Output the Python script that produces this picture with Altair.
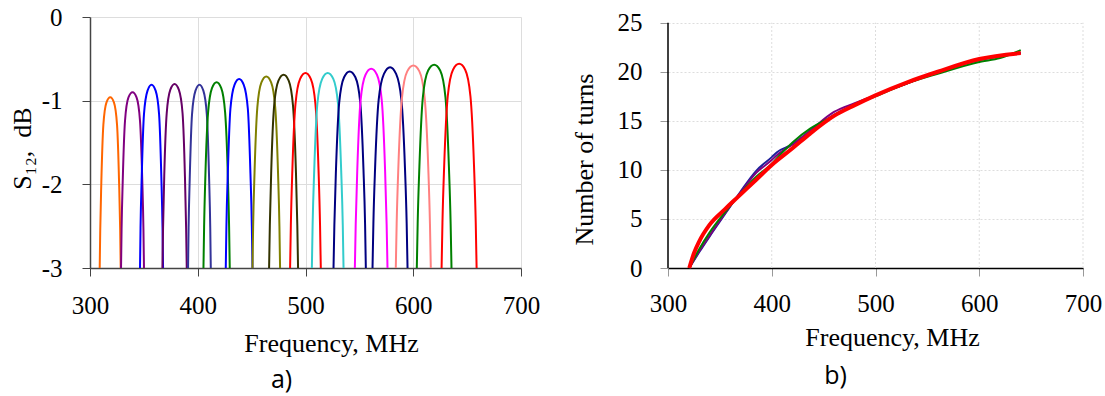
import altair as alt
import pandas as pd

# ---------------- panel a) : S12 curves ----------------
S12_FREQS = [
    [309.0, 309.5, 310.5, 312.4, 315.3, 318.8, 322.2, 325.1, 327.0, 328.0, 328.5],
    [328.8, 329.3, 330.4, 332.5, 335.7, 339.5, 343.2, 346.4, 348.5, 349.6, 350.1],
    [346.4, 346.9, 348.0, 350.1, 353.4, 357.1, 360.9, 364.1, 366.2, 367.3, 367.8],
    [367.2, 367.8, 368.9, 371.2, 374.5, 378.5, 382.5, 385.9, 388.1, 389.2, 389.8],
    [391.0, 391.5, 392.6, 394.7, 397.9, 401.6, 405.2, 408.4, 410.5, 411.6, 412.1],
    [405.3, 405.9, 407.1, 409.6, 413.2, 417.5, 421.8, 425.4, 427.9, 429.1, 429.7],
    [426.0, 426.6, 427.9, 430.3, 434.1, 438.4, 442.7, 446.5, 448.9, 450.2, 450.8],
    [450.8, 451.4, 452.7, 455.3, 459.1, 463.6, 468.1, 471.9, 474.5, 475.8, 476.4],
    [466.2, 466.9, 468.2, 470.9, 474.9, 479.7, 484.4, 488.4, 491.1, 492.4, 493.1],
    [485.7, 486.4, 487.8, 490.7, 495.0, 500.0, 504.9, 509.2, 512.1, 513.5, 514.2],
    [505.9, 506.6, 508.1, 511.0, 515.5, 520.6, 525.8, 530.2, 533.1, 534.6, 535.3],
    [526.0, 526.8, 528.3, 531.3, 535.8, 541.0, 546.3, 550.8, 553.8, 555.3, 556.0],
    [545.8, 546.6, 548.1, 551.1, 555.7, 561.0, 566.3, 570.8, 573.8, 575.3, 576.1],
    [562.2, 563.0, 564.6, 567.9, 572.8, 578.5, 584.1, 589.0, 592.3, 593.9, 594.7],
    [583.8, 584.6, 586.2, 589.5, 594.4, 600.1, 605.7, 610.6, 613.9, 615.5, 616.3],
    [603.3, 604.1, 605.7, 608.9, 613.8, 619.4, 625.0, 629.9, 633.1, 634.7, 635.5],
    [626.3, 627.1, 628.7, 632.0, 636.9, 642.6, 648.2, 653.1, 656.4, 658.0, 658.8],
]
S12_DB = [
    [-3, -2.55, -1.98, -1.29, -1.02, -0.96, -1.02, -1.29, -1.98, -2.55, -3],
    [-3, -2.54, -1.95, -1.24, -0.96, -0.90, -0.96, -1.24, -1.95, -2.54, -3],
    [-3, -2.52, -1.91, -1.16, -0.88, -0.81, -0.88, -1.16, -1.91, -2.52, -3],
    [-3, -2.52, -1.90, -1.15, -0.87, -0.80, -0.87, -1.15, -1.90, -2.52, -3],
    [-3, -2.52, -1.91, -1.16, -0.88, -0.81, -0.88, -1.16, -1.91, -2.52, -3],
    [-3, -2.51, -1.89, -1.14, -0.85, -0.78, -0.85, -1.14, -1.89, -2.51, -3],
    [-3, -2.50, -1.87, -1.10, -0.81, -0.74, -0.81, -1.10, -1.87, -2.50, -3],
    [-3, -2.50, -1.86, -1.08, -0.78, -0.71, -0.78, -1.08, -1.86, -2.50, -3],
    [-3, -2.49, -1.84, -1.06, -0.76, -0.69, -0.76, -1.06, -1.84, -2.49, -3],
    [-3, -2.49, -1.83, -1.04, -0.74, -0.67, -0.74, -1.04, -1.83, -2.49, -3],
    [-3, -2.49, -1.83, -1.04, -0.74, -0.67, -0.74, -1.04, -1.83, -2.49, -3],
    [-3, -2.48, -1.82, -1.02, -0.72, -0.65, -0.72, -1.02, -1.82, -2.48, -3],
    [-3, -2.48, -1.81, -1.00, -0.69, -0.62, -0.69, -1.00, -1.81, -2.48, -3],
    [-3, -2.47, -1.80, -0.99, -0.68, -0.60, -0.68, -0.99, -1.80, -2.47, -3],
    [-3, -2.47, -1.79, -0.97, -0.65, -0.58, -0.65, -0.97, -1.79, -2.47, -3],
    [-3, -2.47, -1.79, -0.96, -0.64, -0.57, -0.64, -0.96, -1.79, -2.47, -3],
    [-3, -2.46, -1.78, -0.95, -0.63, -0.56, -0.63, -0.95, -1.78, -2.46, -3],
]
S12_COLORS = ["#FF6600", "#800080", "#0000FF", "#660066", "#333399", "#008000",
              "#0000FF", "#808000", "#333300", "#FF0000", "#33CCCC", "#000080",
              "#FF00FF", "#000080", "#FF8080", "#008000", "#FF0000"]

# ---------------- panel b) : number of turns ----------------
TURN_NAMES = ["navy", "purple", "green", "red"]
TURN_COLORS = ["#1F1F9A", "#7F007F", "#008000", "#FF0000"]
TURN_WIDTHS = [2, 2, 2, 4]
TURN_FREQS = [
    [320.5, 330, 340, 355, 370, 385, 400, 405, 420, 437, 460, 480, 500, 530, 560, 600, 640],
    [320.5, 330, 340, 355, 370, 385, 400, 405, 420, 437, 460, 480, 500, 530, 560, 600, 640],
    [320.5, 330, 340, 355, 370, 385, 400, 405, 420, 437, 460, 480, 500, 530, 560, 600, 620, 640],
    [320.5, 325, 330, 340, 355, 368, 385, 400, 420, 437, 460, 480, 500, 530, 560, 600, 640],
]
TURN_VALUES = [
    [0, 1.6, 3.2, 5.5, 7.8, 9.9, 11.3, 11.8, 12.6, 13.9, 15.6, 16.7, 17.6, 18.8, 20.0, 21.2, 21.9],
    [0, 1.7, 3.3, 5.6, 7.7, 9.7, 11.0, 11.5, 12.6, 14.0, 15.9, 16.8, 17.6, 18.8, 20.0, 21.2, 21.9],
    [0, 1.9, 3.6, 5.7, 7.6, 9.3, 10.6, 11.2, 12.8, 14.2, 15.5, 16.6, 17.5, 18.8, 19.8, 21.0, 21.4, 22.2],
    [0, 1.5, 2.7, 4.4, 6.0, 7.3, 9.0, 10.5, 12.2, 13.7, 15.5, 16.6, 17.6, 18.9, 20.0, 21.3, 21.9],
]

X_TICKS = [300, 400, 500, 600, 700]
S12_TICKS = [-3, -2, -1, 0]
TURN_TICKS = [0, 5, 10, 15, 20, 25]

SERIF = "Liberation Serif"

rows = []
for i, (fs, ds) in enumerate(zip(S12_FREQS, S12_DB)):
    for j, (f, d) in enumerate(zip(fs, ds)):
        rows.append({"curve": f"c{i:02d}", "idx": j, "f": f, "db": d})
df_a = pd.DataFrame(rows)
curve_ids = [f"c{i:02d}" for i in range(len(S12_FREQS))]

left = alt.Chart(df_a).mark_line(strokeWidth=2, interpolate="monotone").encode(
    x=alt.X("f:Q", scale=alt.Scale(domain=[300, 700], nice=False, zero=False),
            axis=alt.Axis(values=X_TICKS, title="Frequency, MHz", titleX=241,
                          grid=True, gridColor="#DDDDDD", gridWidth=1,
                          domainColor="#444444", domainWidth=1.5,
                          tickColor="#444444", tickSize=8, labelPadding=17,
                          titlePadding=12)),
    y=alt.Y("db:Q", scale=alt.Scale(domain=[-3, 0], nice=False, zero=False),
            axis=alt.Axis(values=S12_TICKS, title="S\u2081\u2082,\u00a0\u00a0dB", labelExpr="'' + datum.value",
                          titleY=131, grid=True, gridColor="#DDDDDD", gridWidth=1,
                          domainColor="#444444", domainWidth=1.5,
                          tickColor="#444444", tickSize=8, labelPadding=20,
                          titlePadding=6)),
    color=alt.Color("curve:N", scale=alt.Scale(domain=curve_ids, range=S12_COLORS), legend=None),
    order="idx:Q",
).properties(
    width=431, height=251,
    title=alt.TitleParams("a)", orient="bottom", anchor="middle", dx=-24, offset=12,
                          font="Open Sans", fontSize=25, fontWeight="normal", color="#000000"),
)

rows = []
for name, fs, vs in zip(TURN_NAMES, TURN_FREQS, TURN_VALUES):
    for j, (f, v) in enumerate(zip(fs, vs)):
        rows.append({"series": name, "idx": j, "f": f, "n": v})
df_b = pd.DataFrame(rows)

ymax_b = 25.58
xb = alt.X("f:Q", scale=alt.Scale(domain=[300, 700], nice=False, zero=False),
           axis=alt.Axis(values=X_TICKS, title="Frequency, MHz", titleX=224,
                         grid=False, domainColor="#000000", domainWidth=1.5,
                         tickColor="#999999", tickSize=8, labelPadding=15,
                         titlePadding=8))
yb = alt.Y("n:Q", scale=alt.Scale(domain=[0, ymax_b], nice=False, zero=False),
           axis=alt.Axis(values=TURN_TICKS, title="Number of turns", titleY=142,
                         grid=True, gridColor="#DDDDDD", gridDash=[2, 2], gridWidth=1,
                         domain=False, tickColor="#999999", tickSize=8,
                         labelPadding=18, titlePadding=20))

vgrid = alt.Chart(pd.DataFrame({"g": [400, 500, 600, 700], "y0": [0] * 4, "y1": [25] * 4})).mark_rule(
    color="#DDDDDD", strokeDash=[2, 2], strokeWidth=1
).encode(x=alt.X("g:Q", scale=alt.Scale(domain=[300, 700], nice=False, zero=False)), y="y0:Q", y2="y1:Q")

yaxis_line = alt.Chart(pd.DataFrame({"g": [300], "y0": [0], "y1": [25]})).mark_rule(
    color="#000000", strokeWidth=1.5
).encode(x="g:Q", y="y0:Q", y2="y1:Q")

layers = [vgrid, yaxis_line]
for name, col, w in zip(TURN_NAMES, TURN_COLORS, TURN_WIDTHS):
    layers.append(
        alt.Chart(df_b[df_b.series == name]).mark_line(
            color=col, strokeWidth=w, interpolate="monotone"
        ).encode(x=xb, y=yb, order="idx:Q")
    )

right = alt.layer(*layers).properties(
    width=415, height=251,
    title=alt.TitleParams("b)", orient="bottom", anchor="middle", dx=-40, offset=14,
                          font="Open Sans", fontSize=25, fontWeight="normal", color="#000000"),
)

chart = alt.hconcat(left, right, spacing=31).properties(
    padding={"left": 9, "top": 5, "right": 0, "bottom": 8}
).configure(background="#FFFFFF").configure_view(stroke=None).configure_axis(
    labelFont=SERIF, labelFontSize=25, labelColor="#000000", labelFlush=False,
    titleFont=SERIF, titleFontSize=26, titleFontWeight="normal", titleColor="#000000",
)

chart.save("out.html", embed_options={"renderer": "svg", "actions": False})
